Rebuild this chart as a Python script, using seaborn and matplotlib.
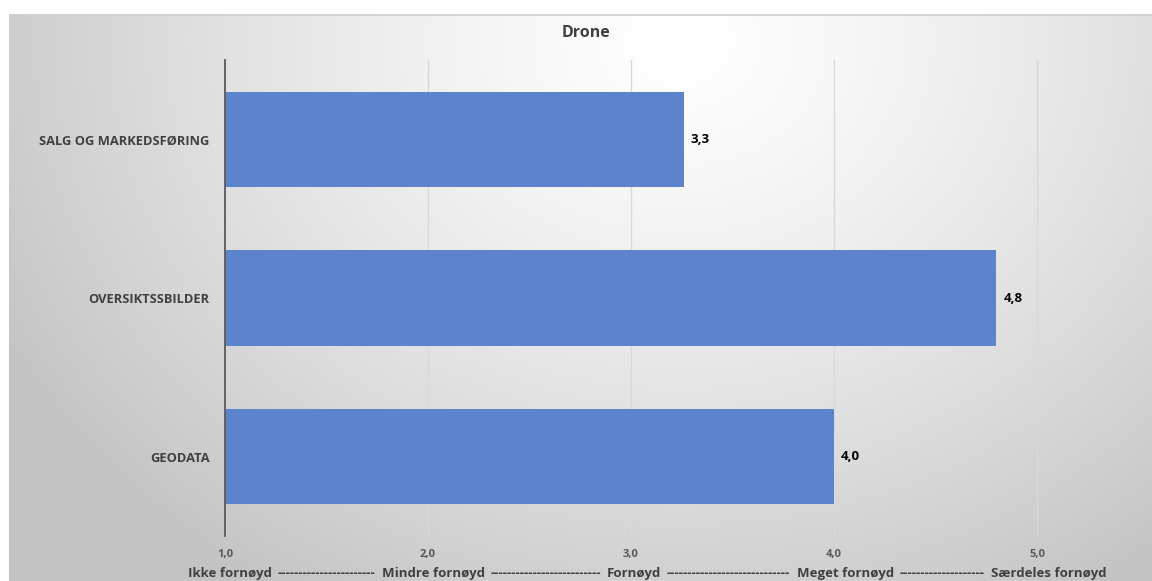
import numpy as np
import pandas as pd
import matplotlib
matplotlib.use("Agg")
import matplotlib.pyplot as plt
import seaborn as sns

# Data
categories = ["SALG OG MARKEDSFØRING", "OVERSIKTSSBILDER", "GEODATA"]
scores = [3.26, 4.8, 4.0]
tick_values = [1, 2, 3, 4, 5]
tick_labels = ["1,0", "2,0", "3,0", "4,0", "5,0"]
scale_words = ["Ikke fornøyd", "Mindre fornøyd", "Fornøyd", "Meget fornøyd", "Særdeles fornøyd"]
title = "Drone"

sns.set_theme(style="white")
FONT = ["Open Sans", "DejaVu Sans"]
plt.rcParams["font.family"] = FONT

W, H = 1152, 581
fig = plt.figure(figsize=(W / 100, H / 100), dpi=100)
fig.patch.set_facecolor("white")

# Radial grey gradient behind the chart frame
x0, y0 = 9, 14
bg = fig.add_axes([x0 / W, 0, 1 - x0 / W, 1 - y0 / H], zorder=-10)
gx = np.linspace(x0, W, 400)
gy = np.linspace(y0, H, 200)
GX, GY = np.meshgrid(gx, gy)
r = np.sqrt(((GX - 680) / 1.0) ** 2 + ((GY - 40) / 0.85) ** 2)
v = 255 - 54 * (r / 720) ** 1.3
v = np.clip(v, 195, 255) / 255.0
bg.imshow(np.dstack([v, v, v]), extent=[x0, W, H, y0], aspect="auto", origin="upper")
bg.set_xlim(x0, W)
bg.set_ylim(H, y0)
bg.axhline(y0 + 0.5, color="#cfcfcf", lw=1.2)
bg.axis("off")

# Main bar chart
ax = fig.add_axes([225 / W, 45 / H, (1138.5 - 225) / W, (536 - 60) / H])
ax.patch.set_alpha(0)
df = pd.DataFrame({"kategori": categories, "score": scores})
sns.barplot(data=df, x="score", y="kategori", orient="h", color="#5B84CC",
            saturation=1, width=0.6, linewidth=0, edgecolor="none", ax=ax)
ax.set_xlim(1, 5.5)
ax.set_ylim(2.5, -0.5)

ax.set_xticks(tick_values)
ax.set_xticklabels(tick_labels, fontsize=8, fontweight="bold", color="#595959")
ax.tick_params(axis="x", length=0, pad=9)
ax.tick_params(axis="y", length=0, pad=11)
for lbl in ax.get_yticklabels():
    lbl.set_fontsize(9.3)
    lbl.set_fontweight("bold")
    lbl.set_color("#404040")

ax.xaxis.grid(True, color="#d9d9d9", lw=1)
ax.set_axisbelow(True)
for s in ["top", "right", "bottom"]:
    ax.spines[s].set_visible(False)
ax.spines["left"].set_color("#595959")
ax.spines["left"].set_linewidth(1.3)
ax.set_xlabel("")
ax.set_ylabel("")

for cont in ax.containers:
    ax.bar_label(cont, labels=[f"{s:.1f}".replace(".", ",") for s in scores],
                 padding=5, fontsize=9.5, fontweight="bold", color="black")

# Scale description under the axis: words with dashed leaders between them
word_left = [188, 382, 607, 797, 991]
ybase = 1 - 573 / H
renderer = fig.canvas.get_renderer()
txt_kw = dict(fontsize=9.5, fontweight="bold", color="#404040", va="center")
word_right = []
for w, xl in zip(scale_words, word_left):
    t = fig.text(xl / W, ybase, w, ha="left", **txt_kw)
    bb = t.get_window_extent(renderer)
    word_right.append(bb.x1)
probe = fig.text(0, 0, "-" * 40, **txt_kw)
dash_w = probe.get_window_extent(renderer).width / 40
probe.remove()
for i in range(len(scale_words) - 1):
    gap_l = word_right[i] + 5
    gap_r = word_left[i + 1] - 6
    n = max(1, int((gap_r - gap_l) / dash_w))
    fig.text((gap_l + gap_r) / 2 / W, ybase, "-" * n, ha="center", **txt_kw)

fig.text(586 / W, 1 - 33 / H, title, ha="center", va="center",
         fontsize=11.5, fontweight="bold", color="#404040")

fig.savefig("out.png", dpi=100)
